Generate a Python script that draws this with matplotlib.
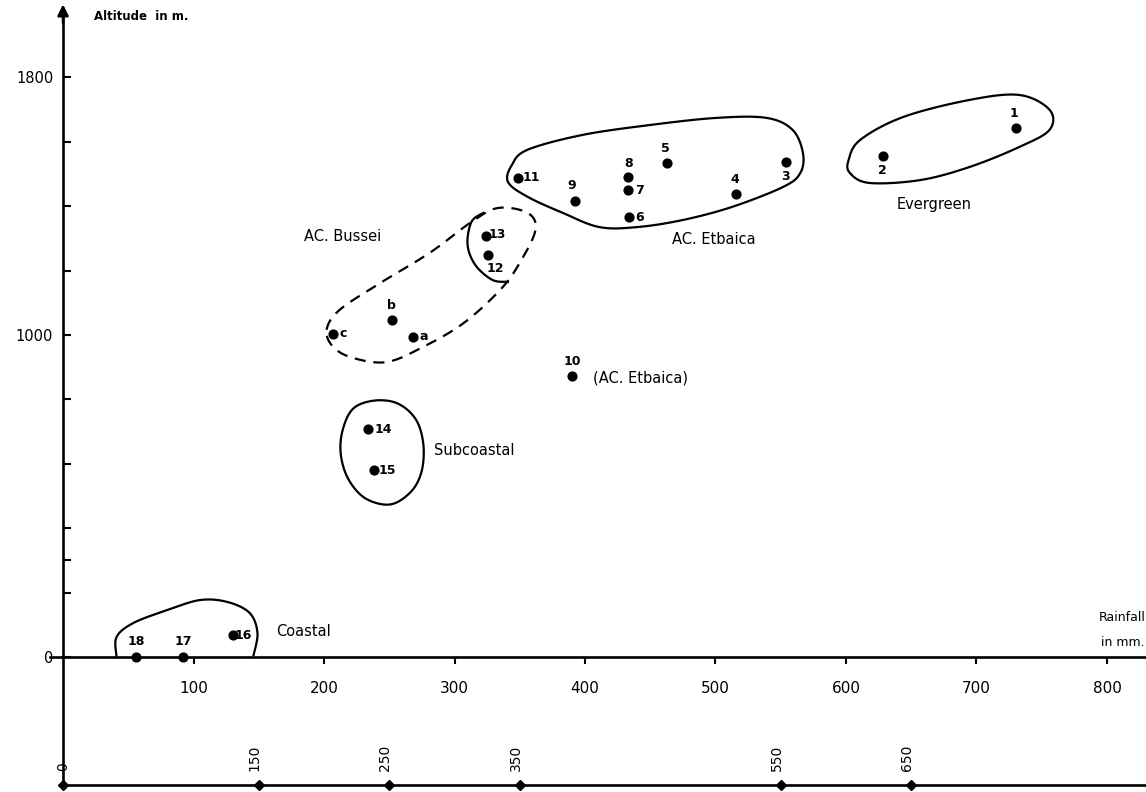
import numpy as np
import matplotlib
matplotlib.use("Agg")
import matplotlib.pyplot as plt
from matplotlib.patches import Polygon

plt.rcParams['font.family'] = ['DejaVu Sans']

# ---------------- data ----------------
site_labels = ["1", "2", "3", "4", "5", "6", "7", "8", "9", "10", "11", "12", "13",
               "14", "15", "16", "17", "18", "a", "b", "c"]
rainfall_mm = [730, 628, 554, 516, 463, 434, 433, 433, 392, 390, 349, 326, 324,
               234, 238, 130, 92, 56, 268, 252, 207]
altitude_m = [1642, 1556, 1537, 1438, 1534, 1366, 1450, 1491, 1416, 872, 1488, 1248, 1307,
              708, 580, 68, 0, 0, 994, 1047, 1003]

x_ticks = [100, 200, 300, 400, 500, 600, 700, 800]
y_ticks = [0, 200, 300, 400, 600, 800, 1000, 1200, 1400, 1600, 1800]
y_tick_labels = {0: "0", 1000: "1000", 1800: "1800"}
second_ticks = [0, 150, 250, 350, 550, 650]

group_names = ["AC. Bussei", "AC. Etbaica", "Evergreen", "Subcoastal", "Coastal", "(AC. Etbaica)"]

# group outlines (x in mm, y in m)
etbaica_outline_x = [341, 344, 356, 398, 450, 501, 539, 559, 567, 565, 552, 513, 475, 440, 411, 383, 356]
etbaica_outline_y = [1475, 1528, 1575, 1621, 1652, 1674, 1674, 1637, 1565, 1503, 1460, 1398, 1357, 1335, 1335, 1379, 1429]
evergreen_outline_x = [602, 611, 644, 695, 733, 756, 756, 733, 695, 657, 618, 603]
evergreen_outline_y = [1543, 1606, 1677, 1730, 1745, 1699, 1637, 1584, 1522, 1481, 1472, 1503]
bussei_outline_x = [202, 212, 243, 281, 312, 333, 356, 362, 350, 335, 307, 276, 248, 222, 207]
bussei_outline_y = [1016, 1078, 1161, 1255, 1348, 1394, 1379, 1326, 1224, 1140, 1037, 963, 916, 929, 963]
inner_arc_x = [322, 313, 310, 316, 329, 341]
inner_arc_y = [1379, 1351, 1280, 1217, 1171, 1165]
subcoastal_outline_x = [214, 222, 238, 256, 270, 276, 275, 267, 251, 232, 219, 213]
subcoastal_outline_y = [700, 770, 796, 788, 740, 665, 580, 515, 474, 492, 550, 625]
coastal_outline_x = [41, 41, 54, 80, 105, 126, 143, 149, 146]
coastal_outline_y = [0, 62, 106, 146, 177, 171, 137, 75, 6]

# label offsets in pixels (dx, dy)
label_offsets = [(-2, 15), (0, -15), (0, -14), (-2, 14), (-2, 14), (10, 0), (11, 0), (0, 13),
                 (-3, 15), (0, 15), (13, 0), (7, -13), (11, 2), (15, 0), (14, 0), (11, 0),
                 (0, 16), (0, 16), (11, 0), (0, 14), (10, 0)]


def catmull(xs, ys, closed=True, n=24):
    P = np.column_stack([xs, ys]).astype(float)
    if not closed:
        P = np.vstack([P[0], P, P[-1]])
    N = len(P)
    segs = []
    rng = range(N) if closed else range(1, N - 2)
    for i in rng:
        p0, p1, p2, p3 = P[(i - 1) % N], P[i], P[(i + 1) % N], P[(i + 2) % N]
        t = np.linspace(0, 1, n, endpoint=False)[:, None]
        segs.append(0.5 * (2 * p1 + (-p0 + p2) * t + (2 * p0 - 5 * p1 + 4 * p2 - p3) * t ** 2
                           + (-p0 + 3 * p1 - 3 * p2 + p3) * t ** 3))
    out = np.vstack(segs)
    if closed:
        return out
    return np.vstack([out, P[-2:-1]])


fig = plt.figure(figsize=(11.46, 7.92), dpi=100)
ax = fig.add_axes([0, 0, 1, 1])
ax.set_xlim(-48.3, 829.9)
ax.set_ylim(-419, 2040)
ax.patch.set_visible(False)

for s in ["top", "right"]:
    ax.spines[s].set_visible(False)
ax.spines["left"].set_position(("data", 0))
ax.spines["bottom"].set_position(("data", 0))
ax.spines["left"].set_bounds(-398, 1990)
ax.spines["bottom"].set_bounds(-10, 830)
for s in ["left", "bottom"]:
    ax.spines[s].set_linewidth(1.9)

ax.set_xticks(x_ticks)
ax.set_xticklabels([str(v) for v in x_ticks])
ax.set_yticks(y_ticks)
ax.set_yticklabels([y_tick_labels.get(v, "") for v in y_ticks])
ax.tick_params(axis="x", direction="out", length=5, width=1.5, pad=12, labelsize=11)
ax.tick_params(axis="y", direction="in", length=6, width=1.5, pad=7, labelsize=10.5)

# y-axis arrow
ax.annotate("", xy=(0, 2035), xytext=(0, 1960),
            arrowprops=dict(arrowstyle="-|>", color="k", lw=1.9, mutation_scale=16))

# second rainfall scale at the bottom
ax.plot([0, 830], [-398, -398], color="k", lw=1.9, solid_capstyle="butt")
ax.plot(second_ticks, [-398] * len(second_ticks), linestyle="none", marker="D",
        color="k", markersize=5)
for v in second_ticks:
    dx = 0 if v == 0 else -4
    ax.annotate(str(v), xy=(v, -398), xytext=(dx, 14), textcoords="offset pixels",
                rotation=90, ha="center", va="bottom", fontsize=10)

# outlines
for xs, ys, ls in [(etbaica_outline_x, etbaica_outline_y, "-"),
                   (evergreen_outline_x, evergreen_outline_y, "-"),
                   (bussei_outline_x, bussei_outline_y, (0, (5, 3.5))),
                   (subcoastal_outline_x, subcoastal_outline_y, "-")]:
    ax.add_patch(Polygon(catmull(xs, ys), closed=True, fill=False, edgecolor="k",
                         lw=1.6, linestyle=ls, joinstyle="round"))
c = catmull(inner_arc_x, inner_arc_y, closed=False)
ax.plot(c[:, 0], c[:, 1], color="k", lw=1.6)
c = catmull(coastal_outline_x, coastal_outline_y, closed=False)
ax.plot(c[:, 0], c[:, 1], color="k", lw=1.6)

# points
ax.scatter(rainfall_mm, altitude_m, s=40, color="k", zorder=5, clip_on=False)
for lab, x, y, (dx, dy) in zip(site_labels, rainfall_mm, altitude_m, label_offsets):
    ax.annotate(lab, xy=(x, y), xytext=(dx, dy), textcoords="offset pixels",
                ha="center", va="center", fontsize=9, fontweight="bold")

# group names
name_pos_x = [185, 467, 639, 284, 163, 406]
name_pos_y = [1307, 1295, 1404, 640, 78, 866]
for name, x, y in zip(group_names, name_pos_x, name_pos_y):
    ax.text(x, y, name, ha="left", va="center", fontsize=10.5)

# axis titles
ax.text(24, 1988, "Altitude  in m.", ha="left", va="center", fontsize=8.5, fontweight="bold")
ax.text(812, 124, "Rainfall", ha="center", va="center", fontsize=9)
ax.text(812, 44, "in mm.", ha="center", va="center", fontsize=9)

fig.savefig("out.png", dpi=100)
